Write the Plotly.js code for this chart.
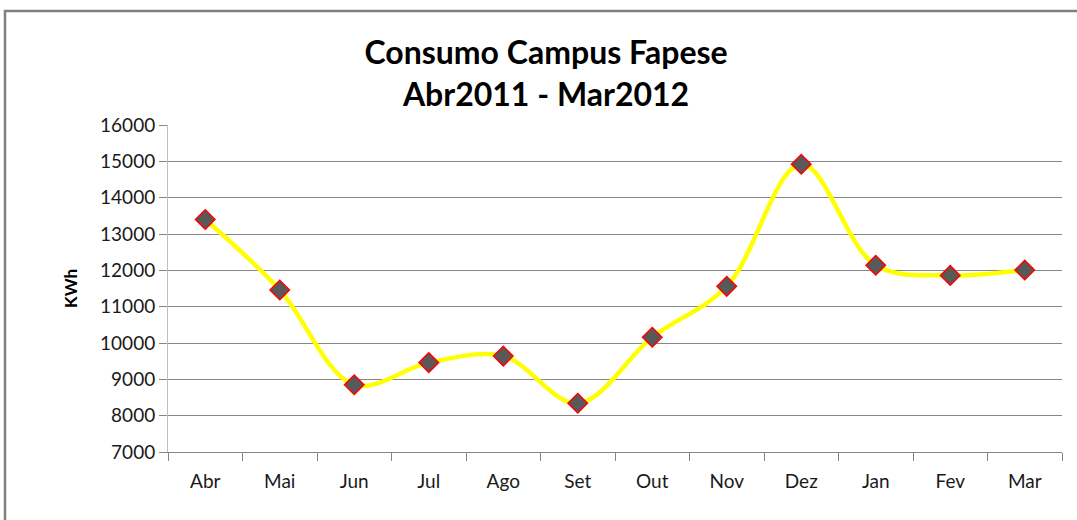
<!DOCTYPE html>
<html>
<head>
<meta charset="utf-8">
<script src="https://cdn.plot.ly/plotly-3.0.1.min.js"></script>
<style>
  body { margin: 0; background: #fff; }
  #chart { width: 1077px; height: 520px; }
</style>
</head>
<body>
<div id="chart"></div>
<script>
// consumo mensal (KWh)
var meses = ["Abr", "Mai", "Jun", "Jul", "Ago", "Set", "Out", "Nov", "Dez", "Jan", "Fev", "Mar"];
var consumo = [13400, 11460, 8850, 9460, 9640, 8340, 10160, 11560, 14920, 12140, 11860, 12010];
var yTicks = [7000, 8000, 9000, 10000, 11000, 12000, 13000, 14000, 15000, 16000];

var trace = {
    x: meses,
    y: consumo,
    mode: "lines+markers",
    line: { color: "#ffff00", width: 4.5, shape: "spline", smoothing: 1 },
    marker: { symbol: "diamond", size: 15, color: "#595959", line: { color: "#ff0000", width: 1.5 } },
    hoverinfo: "skip"
};

// moldura do grafico (em coordenadas paper)
var L = 168, R = 1062, T = 125, B = 452;
function px(x) { return (x - L) / (R - L); }
function py(y) { return (B - y) / (B - T); }

var layout = {
    width: 1077,
    height: 520,
    margin: { l: L, r: 1077 - R, t: T, b: 520 - B },
    paper_bgcolor: "#ffffff",
    plot_bgcolor: "#ffffff",
    showlegend: false,
    font: { family: "Lato, 'Open Sans', sans-serif", color: "#1a1a1a" },
    title: {
        text: "<b>Consumo Campus Fapese<br>Abr2011 - Mar2012</b>",
        font: { size: 32, color: "#000" },
        x: 0.507, xanchor: "center",
        y: 0.877, yanchor: "top"
    },
    xaxis: {
        type: "category",
        range: [-0.5, meses.length - 0.5],
        tickson: "boundaries",
        ticks: "outside",
        ticklen: 8,
        tickcolor: "#868686",
        ticklabelstandoff: 12,
        showline: true,
        linecolor: "#868686",
        showgrid: false,
        tickfont: { size: 19 },
        fixedrange: true
    },
    yaxis: {
        range: [7000, 16000],
        tickvals: yTicks,
        tickformat: "d",
        ticks: "outside",
        ticklen: 8,
        tickcolor: "#868686",
        showline: true,
        linecolor: "#bfbfbf",
        showgrid: true,
        gridcolor: "#868686",
        zeroline: false,
        tickfont: { size: 19 },
        title: { text: "<b>KWh</b>", font: { size: 17, color: "#000" }, standoff: 18 },
        fixedrange: true
    },
    shapes: [{
        type: "rect", xref: "paper", yref: "paper",
        x0: px(5), x1: px(1110), y0: py(540), y1: py(11),
        line: { color: "#808080", width: 2.5 },
        layer: "below"
    }]
};

Plotly.newPlot("chart", [trace], layout, { displayModeBar: false, staticPlot: true });
</script>
</body>
</html>
